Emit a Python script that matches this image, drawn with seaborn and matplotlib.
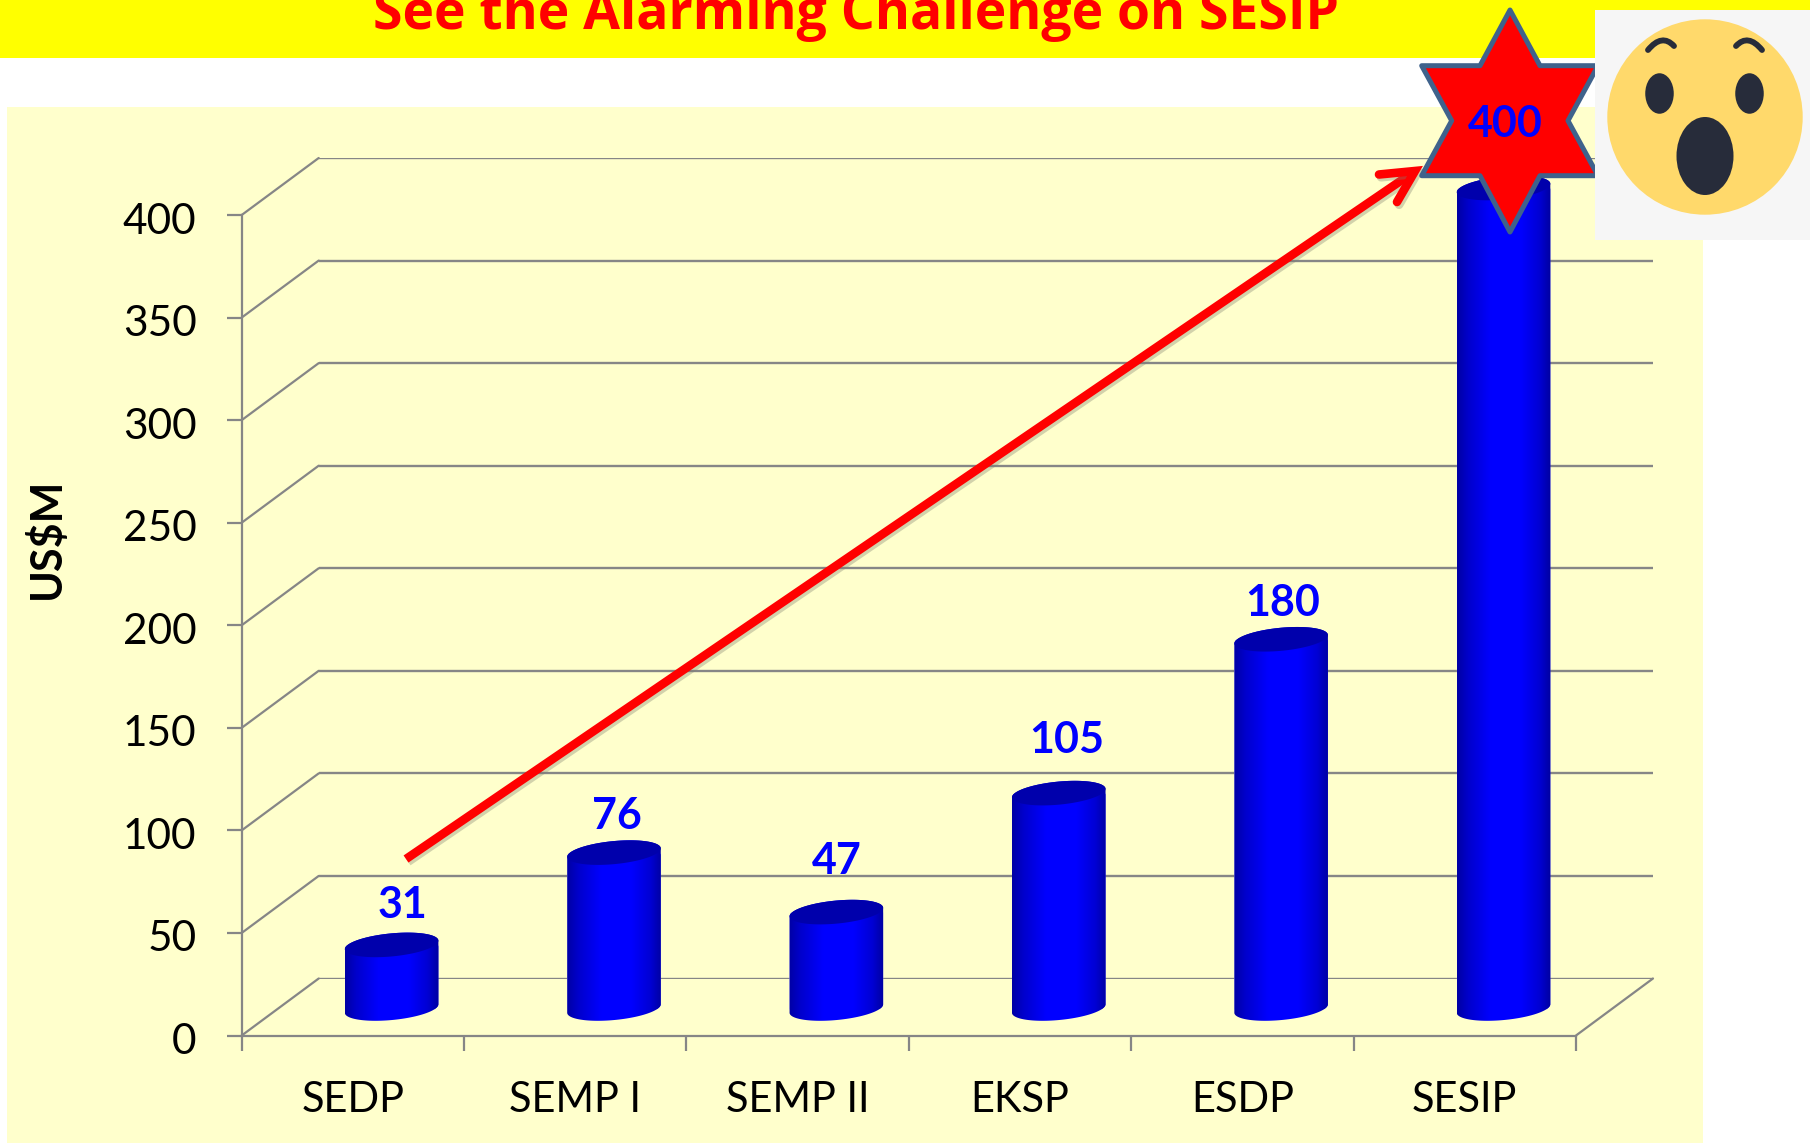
import numpy as np
import pandas as pd
import matplotlib
matplotlib.use("Agg")
import matplotlib.pyplot as plt
import matplotlib.patheffects as pe
from matplotlib.patches import Rectangle, Polygon, Circle, Ellipse, PathPatch
from matplotlib.path import Path
from matplotlib.colors import LinearSegmentedColormap
from matplotlib.transforms import ScaledTranslation
import seaborn as sns

# ---- data ----
categories = ["SEDP", "SEMP I", "SEMP II", "EKSP", "ESDP", "SESIP"]
values = [31, 76, 47, 105, 180, 400]
y_ticks = [0, 50, 100, 150, 200, 250, 300, 350, 400]
title_text = "See the Alarming Challenge on SESIP"
y_label = "US$M"

# ---- layout (pixels) ----
W, H = 1810, 1143
X0, X1, Y0, Y400 = 241.7, 1576.0, 1035.5, 215.0
BAR_DX, BAR_DY = 38.7, -27.0
WALL_DX, WALL_DY = 77.0, -57.0
BAR_W_PX = 94.0
ELL_H_PX = 23.0
ELL_TILT = np.deg2rad(5.5)
label_offsets = [(11, 40), (3, 37), (0, 51), (8, 53), (2, 36), (2, 64)]

sns.set_theme(style="white")
plt.rcParams["font.family"] = ["Lato", "DejaVu Sans"]
GREY = "#868686"
CREAM = "#FFFFCC"
BLUE = "#0000FF"

fig = plt.figure(figsize=(W / 100, H / 100), dpi=100, facecolor="white")


def axes_at(dx=0.0, dy=0.0, zorder=1):
    a = fig.add_axes([(X0 + dx) / W, 1 - (Y0 + dy) / H, (X1 - X0) / W, (Y0 - Y400) / H],
                     zorder=zorder)
    a.set_facecolor("none")
    return a


# background layer: pixel coordinates
bg = fig.add_axes([0, 0, 1, 1], zorder=0)
bg.set_xlim(0, W)
bg.set_ylim(H, 0)
bg.axis("off")
bg.add_patch(Rectangle((0, 0), W, 58, fc="#FFFF00", ec="none"))
bg.add_patch(Rectangle((7.3, 107), 1703 - 7.3, H - 107, fc=CREAM, ec="none"))
bg.text(856, 29, title_text, color="#FF0000", fontsize=38.5, fontweight="bold",
        family="Open Sans", ha="center", va="baseline")

# back wall grid
wall = axes_at(WALL_DX, WALL_DY, 1)
wall.set_xlim(-0.5, 5.5)
wall.set_ylim(0, 400)
wall.set_yticks(y_ticks)
wall.set_xticks([])
wall.tick_params(left=False, labelleft=False)
wall.grid(axis="y", color=GREY, lw=1.7)
sns.despine(ax=wall, left=True, bottom=True)

# front axes with ticks and labels
ax = axes_at(0, 0, 2)
ax.set_xlim(-0.5, 5.5)
ax.set_ylim(0, 400)
ax.set_yticks(y_ticks)
ax.set_xticks(np.arange(-0.5, 6, 1), minor=False)
ax.set_xticklabels([])
ax.set_xticks(np.arange(len(categories)), labels=categories, minor=True)
ax.tick_params(axis="x", which="major", length=10.5, width=1.6, color=GREY, bottom=True)
ax.tick_params(axis="x", which="minor", length=0, pad=33, labelsize=30, labelcolor="black")
ax.tick_params(axis="y", length=10.5, width=1.6, color=GREY, left=True, pad=22,
               labelsize=30.5, labelcolor="black")
shift = ScaledTranslation(0, -2.2 / 72, fig.dpi_scale_trans)
for lab in ax.get_yticklabels():
    lab.set_transform(lab.get_transform() + shift)
for s in ("top", "right"):
    ax.spines[s].set_visible(False)
for s in ("left", "bottom"):
    ax.spines[s].set_color(GREY)
    ax.spines[s].set_linewidth(1.6)
ax.grid(False)
ax.set_ylabel(y_label, fontsize=31, fontweight="bold", color="black")
ax.yaxis.set_label_coords((66.5 - X0) / (X1 - X0), (Y0 - 538) / (Y0 - Y400))

# perspective side lines, expressed in the front axes' units
px_x = (X1 - X0) / 6
px_y = (Y0 - Y400) / 400
for t in y_ticks:
    ax.plot([-0.5, -0.5 + WALL_DX / px_x], [t, t - WALL_DY / px_y], color=GREY, lw=1.6,
            clip_on=False, solid_capstyle="round")
ax.plot([5.5, 5.5 + WALL_DX / px_x], [0, -WALL_DY / px_y], color=GREY, lw=1.6, clip_on=False)

# bars on a plane shifted into the depth of the chart
bar_ax = axes_at(BAR_DX, BAR_DY, 3)
df = pd.DataFrame({"project": categories, "usd": values})
sns.barplot(data=df, x="project", y="usd", ax=bar_ax, color=BLUE, saturation=1,
            width=BAR_W_PX / px_x, order=categories)
bar_ax.set_xlim(-0.5, 5.5)
bar_ax.set_ylim(0, 400)
bar_ax.axis("off")

grad = LinearSegmentedColormap.from_list(
    "cyl", [(0, "#0000A4"), (0.12, "#0000CC"), (0.36, "#0000FF"), (0.68, "#0000FF"),
            (0.88, "#0000D4"), (1, "#0000A0")])
g_img = np.linspace(0, 1, 256).reshape(1, -1)


def ell_points(cx, cy, t):
    a, b = BAR_W_PX / 2, ELL_H_PX / 2
    # pixel y grows downward; the ellipse rises to the right
    ex = cx + a * np.cos(t) * np.cos(ELL_TILT) + b * np.sin(t) * np.sin(ELL_TILT)
    ey = cy - a * np.cos(t) * np.sin(ELL_TILT) + b * np.sin(t) * np.cos(ELL_TILT)
    return np.column_stack([ex, ey])


def to_data(pts):
    return np.column_stack([
        (pts[:, 0] - X0 - BAR_DX) / px_x - 0.5,
        (Y0 + BAR_DY - pts[:, 1]) / px_y,
    ])


tops = []
for patch, v in zip(bar_ax.patches, values):
    xc = patch.get_x() + patch.get_width() / 2
    cx = X0 + BAR_DX + (xc + 0.5) * px_x
    cy_top = Y0 + BAR_DY - patch.get_height() * px_y
    cy_bot = Y0 + BAR_DY
    bottom_arc = ell_points(cx, cy_bot, np.linspace(np.pi, 0, 60))
    top_arc = ell_points(cx, cy_top, np.linspace(0, -np.pi, 60))
    body = to_data(np.vstack([bottom_arc, top_arc, bottom_arc[:1]]))
    clip = Polygon(body, closed=True, transform=bar_ax.transData, fc="none", ec="none")
    bar_ax.add_patch(clip)
    patch.set_clip_path(clip)
    patch.set_clip_box(fig.bbox)
    im = bar_ax.imshow(g_img, cmap=grad, aspect="auto", zorder=3,
                       extent=(patch.get_x(), patch.get_x() + patch.get_width(),
                               -8, patch.get_height() + 8))
    im.set_clip_path(clip)
    im.set_clip_box(fig.bbox)
    cap = to_data(ell_points(cx, cy_top, np.linspace(0, 2 * np.pi, 90)))
    bar_ax.add_patch(Polygon(cap, closed=True, fc="#0000AC", ec="none", zorder=4,
                             clip_on=False))
    tops.append((xc, patch.get_height()))
bar_ax.set_xlim(-0.5, 5.5)
bar_ax.set_ylim(0, 400)

# overlay: arrow, star, emoji, value labels
ov = fig.add_axes([0, 0, 1, 1], zorder=4)
ov.set_xlim(0, W)
ov.set_ylim(H, 0)
ov.axis("off")
ov.patch.set_alpha(0)

shadow = [pe.SimpleLineShadow(offset=(1.5, -2), shadow_color="#808070", alpha=0.35), pe.Normal()]
ov.plot([406, 1410], [859, 174.5], color="#FF0000", lw=6.2, solid_capstyle="butt",
        path_effects=shadow)
ov.plot([1379, 1415, 1397], [174.5, 171, 202], color="#FF0000", lw=6.2,
        solid_capstyle="round", solid_joinstyle="miter", path_effects=shadow)

star = [(1510, 10), (1540, 65.7), (1598, 65.7), (1568, 120.7), (1598, 175.7), (1540, 175.7),
        (1510, 232), (1480, 175.7), (1421.7, 175.7), (1451.7, 120.7), (1421.7, 65.7), (1480, 65.7)]
ov.add_patch(Polygon(star, closed=True, fc="#FF0000", ec="#3F628C", lw=3.6, joinstyle="round",
                     zorder=3))

ov.add_patch(Rectangle((1595, 10), W - 1595, 230, fc="#F6F6F6", ec="none", zorder=4))
ov.add_patch(Circle((1705, 117), 97.7, fc="#FFD96B", ec="none", zorder=5))
DARK = "#272C3A"
for ex in (1659.5, 1749.5):
    ov.add_patch(Ellipse((ex, 93.5), 28.5, 40.5, fc=DARK, ec="none", zorder=6))
ov.add_patch(Ellipse((1705, 156), 57, 78, fc=DARK, ec="none", zorder=6))
for bx in ((1648, 1662, 1674), (1762, 1748, 1736)):
    brow = Path([(bx[0], 50), (bx[1], 33), (bx[2], 46)], [Path.MOVETO, Path.CURVE3, Path.CURVE3])
    ov.add_patch(PathPatch(brow, fc="none", ec=DARK, lw=4.2, capstyle="round", zorder=6))

for (xc, h), v, (dx, dy) in zip(tops, values, label_offsets):
    ov.annotate(str(v), xy=(xc, h), xycoords=bar_ax.transData,
                xytext=(dx * 0.72, dy * 0.72), textcoords="offset points",
                ha="center", va="center", color=BLUE, fontsize=31, fontweight="bold", zorder=7)

fig.savefig("out.png", dpi=100, facecolor="white")
